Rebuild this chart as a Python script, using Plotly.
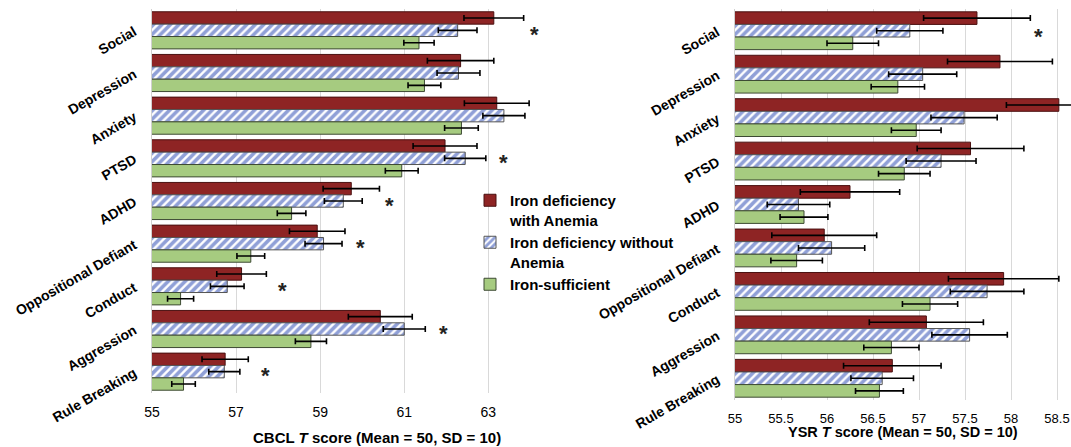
import plotly.graph_objects as go

# ---------------- data ----------------
categories = ["Social", "Depression", "Anxiety", "PTSD", "ADHD",
              "Oppositional Defiant", "Conduct", "Aggression", "Rule Breaking"]

series_names = ["Iron deficiency<br>with Anemia",
                "Iron deficiency without<br>Anemia",
                "Iron-sufficient"]

# CBCL T scores
cbcl_ida = [63.13, 62.34, 63.20, 61.97, 59.74, 58.93, 57.13, 60.43, 56.74]
cbcl_ida_err = [0.71, 0.79, 0.77, 0.76, 0.67, 0.66, 0.59, 0.76, 0.55]
cbcl_id = [62.27, 62.29, 63.37, 62.45, 59.55, 59.08, 56.79, 61.00, 56.72]
cbcl_id_err = [0.46, 0.51, 0.50, 0.49, 0.45, 0.44, 0.40, 0.50, 0.37]
cbcl_is = [61.35, 61.48, 62.36, 60.94, 58.32, 57.35, 55.68, 58.78, 55.75]
cbcl_is_err = [0.36, 0.39, 0.40, 0.39, 0.34, 0.33, 0.31, 0.37, 0.28]

# YSR T scores
ysr_ida = [57.63, 57.88, 58.52, 57.56, 56.25, 55.97, 57.92, 57.08, 56.71]
ysr_ida_err = [0.58, 0.57, 0.57, 0.58, 0.54, 0.57, 0.60, 0.62, 0.53]
ysr_id = [56.90, 57.04, 57.49, 57.24, 55.69, 56.05, 57.74, 57.55, 56.60]
ysr_id_err = [0.36, 0.37, 0.36, 0.38, 0.34, 0.36, 0.40, 0.41, 0.34]
ysr_is = [56.28, 56.77, 56.97, 56.84, 55.75, 55.67, 57.12, 56.70, 56.57]
ysr_is_err = [0.28, 0.29, 0.27, 0.28, 0.26, 0.28, 0.30, 0.30, 0.26]

# significance markers (category, x position of the asterisk)
cbcl_sig_cats = ["Social", "PTSD", "ADHD", "Oppositional Defiant", "Conduct",
                 "Aggression", "Rule Breaking"]
cbcl_sig_x = [64.1, 63.36, 60.64, 59.95, 58.1, 61.94, 57.7]
ysr_sig_cats = ["Social"]
ysr_sig_x = [58.30]

cbcl_ticks = [55, 57, 59, 61, 63]
ysr_ticks = [55, 55.5, 56, 56.5, 57, 57.5, 58, 58.5]

# ---------------- styling ----------------
FONT = "Liberation Sans, Arial, sans-serif"
RED = "#8E2424"
BLUE = "#2242B0"
GREEN = "#A6CB80"
W, H = 1071, 447


def px(x):
    return x / W


def py(y):
    return 1 - y / H


fig = go.Figure()


def add_group(xa, ya, vals, errs, show):
    styles = [
        dict(color=RED, line=dict(color="#4a1010", width=1)),
        dict(color="white", line=dict(color="#555555", width=1),
             pattern=dict(shape="/", fgcolor=BLUE, bgcolor="white",
                          size=6, solidity=0.6)),
        dict(color=GREEN, line=dict(color="#3d4a33", width=1)),
    ]
    for name, v, e, m in zip(series_names, vals, errs, styles):
        fig.add_trace(go.Bar(
            y=categories, x=v, orientation="h", name=name,
            marker=m, xaxis=xa, yaxis=ya, showlegend=show,
            legendgroup=name,
            error_x=dict(type="data", array=e, color="black",
                         thickness=1.6, width=3),
        ))


add_group("x", "y", [cbcl_ida, cbcl_id, cbcl_is],
          [cbcl_ida_err, cbcl_id_err, cbcl_is_err], True)
add_group("x2", "y2", [ysr_ida, ysr_id, ysr_is],
          [ysr_ida_err, ysr_id_err, ysr_is_err], False)

annotations = []
for c, xv in zip(cbcl_sig_cats, cbcl_sig_x):
    annotations.append(dict(x=xv, y=c, xref="x", yref="y", text="<b>*</b>",
                            showarrow=False, yshift=-4,
                            font=dict(family=FONT, size=22, color="#222")))
for c, xv in zip(ysr_sig_cats, ysr_sig_x):
    annotations.append(dict(x=xv, y=c, xref="x2", yref="y2", text="<b>*</b>",
                            showarrow=False, yshift=-6,
                            font=dict(family=FONT, size=22, color="#222")))

annotations.append(dict(x=px(377), y=py(437), xref="paper", yref="paper",
                        text="<b>CBCL <i>T</i> score (Mean = 50, SD = 10)</b>",
                        showarrow=False, xanchor="center", yanchor="middle",
                        font=dict(family=FONT, size=15, color="black")))
annotations.append(dict(x=px(903), y=py(432), xref="paper", yref="paper",
                        text="<b>YSR <i>T</i> score (Mean = 50, SD = 10)</b>",
                        showarrow=False, xanchor="center", yanchor="middle",
                        font=dict(family=FONT, size=14.5, color="black")))

xcommon = dict(showgrid=True, gridcolor="#d9d9d9", gridwidth=1, zeroline=False,
               showline=False, ticks="outside", ticklen=6,
               tickcolor="rgba(0,0,0,0)", automargin=False,
               ticklabeloverflow="allow")
ycommon = dict(categoryorder="array", categoryarray=categories,
               autorange="reversed", tickangle=-30, showgrid=False,
               showline=True, linecolor="#d0d0d0", linewidth=1,
               ticks="outside", ticklen=14, tickcolor="rgba(0,0,0,0)",
               zeroline=False, automargin=False,
               tickfont=dict(family=FONT, size=14, color="black", weight="bold"))

fig.update_layout(
    width=W, height=H,
    margin=dict(l=0, r=0, t=0, b=0, autoexpand=False),
    paper_bgcolor="white", plot_bgcolor="white",
    barmode="group", bargap=0.13, bargroupgap=0,
    font=dict(family=FONT),
    xaxis=dict(domain=[px(152), px(543)], range=[55, 64.3],
               tickmode="array", tickvals=cbcl_ticks, anchor="y",
               tickfont=dict(family=FONT, size=14, color="black"), **xcommon),
    yaxis=dict(domain=[py(393), py(9)], anchor="x", **ycommon),
    xaxis2=dict(domain=[px(735), 1.0], range=[55, 55 + (1071 - 735) / 92.0],
                tickmode="array", tickvals=ysr_ticks,
                ticktext=[f"{t:g}" for t in ysr_ticks], anchor="y2",
                tickfont=dict(family=FONT, size=13, color="black"), **xcommon),
    yaxis2=dict(domain=[py(400), py(9)], anchor="x2", **ycommon),
    legend=dict(x=px(470), y=py(184), xanchor="left", yanchor="top",
                bgcolor="rgba(0,0,0,0)", valign="top",
                traceorder="normal", tracegroupgap=8, itemwidth=30,
                font=dict(family=FONT, size=15, color="black", weight="bold")),
    annotations=annotations,
    showlegend=True,
    hovermode=False,
)

fig.write_html(
    "out.html",
    config={"displayModeBar": False, "staticPlot": True},
    post_script="document.body.style.margin='0px';"
                "document.body.style.overflow='hidden';",
)
